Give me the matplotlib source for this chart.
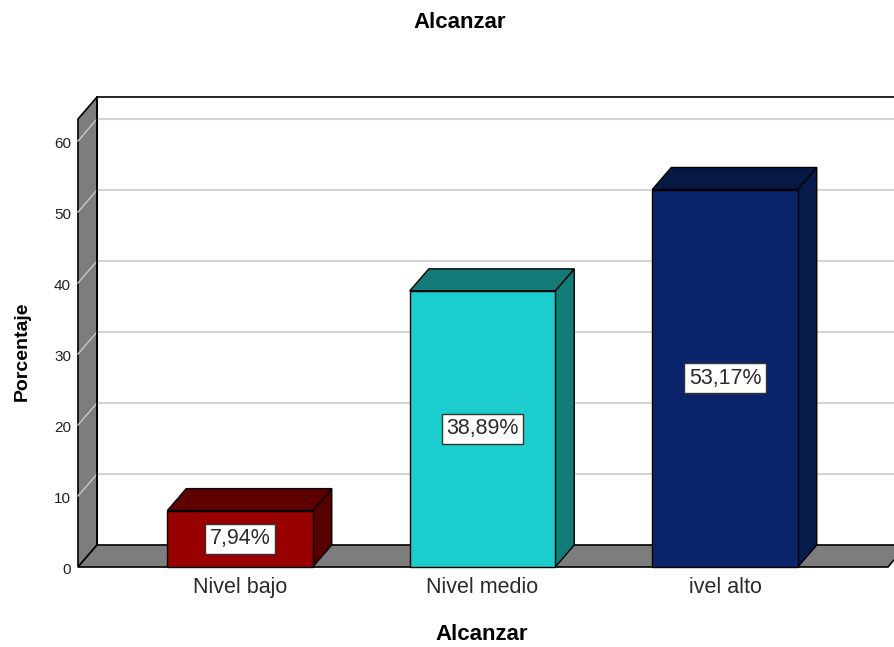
import matplotlib
matplotlib.use('Agg')
import matplotlib.pyplot as plt
from matplotlib.patches import Polygon, Rectangle

plt.rcParams['font.family'] = ['Liberation Sans', 'DejaVu Sans']

categorias = ['Nivel bajo', 'Nivel medio', 'ivel alto']
porcentajes = [7.94, 38.89, 53.17]
etiquetas = ['7,94%', '38,89%', '53,17%']
ticks_y = [0, 10, 20, 30, 40, 50, 60]

frentes = ['#990000', '#1ccdcd', '#0a246b']
techos = ['#5e0000', '#137a78', '#061944']
lados = ['#560000', '#127c79', '#071b4c']

fig = plt.figure(figsize=(8.95, 6.47), dpi=100)
ax = fig.add_axes([78 / 895, 80 / 647, 817 / 895, 448 / 647])
ax.set_xlim(-0.668, 2.701)
ax.set_ylim(0, 63.1)
ax.axis('off')

# fondo 3D: profundidad en unidades de datos
dx, dy = 0.0784, 3.1
x0, x1 = -0.668, 2.672
ytop = 63.1
gris = '#7d7d7d'

# lineas de cuadricula en la pared del fondo
for t in ticks_y[1:]:
    ax.plot([x0 + dx, 3.0], [t + dy, t + dy], color='#d4d4d4', lw=1.5, zorder=1, clip_on=False)

# pared izquierda
ax.add_patch(Polygon([(x0, 0), (x0, ytop), (x0 + dx, ytop + dy), (x0 + dx, dy)],
                     closed=True, facecolor=gris, edgecolor='black', lw=1.2, zorder=2, clip_on=False))
for t in ticks_y[1:]:
    ax.plot([x0, x0 + dx], [t, t + dy], color='#c8c8c8', lw=1, zorder=3, clip_on=False)

# bordes de la pared del fondo
ax.plot([x0 + dx, 3.0], [ytop + dy, ytop + dy], color='black', lw=1.2, zorder=3, clip_on=False)
ax.plot([x0 + dx, x0 + dx], [dy, ytop + dy], color='black', lw=1.2, zorder=3, clip_on=False)

# piso
ax.add_patch(Polygon([(x0, 0), (x1, 0), (x1 + dx, dy), (x0 + dx, dy)],
                     closed=True, facecolor=gris, edgecolor='black', lw=1.2, zorder=3, clip_on=False))

# barras 3D
ancho = 0.6
for i, v in enumerate(porcentajes):
    izq, der = i - ancho / 2, i + ancho / 2
    ax.add_patch(Polygon([(der, 0), (der + dx, dy), (der + dx, v + dy), (der, v)],
                         closed=True, facecolor=lados[i], edgecolor='black', lw=1, zorder=4, clip_on=False))
    ax.add_patch(Polygon([(izq, v), (der, v), (der + dx, v + dy), (izq + dx, v + dy)],
                         closed=True, facecolor=techos[i], edgecolor='black', lw=1, zorder=4, clip_on=False))
    ax.add_patch(Rectangle((izq, 0), ancho, v, facecolor=frentes[i], edgecolor='black',
                           lw=1, zorder=5, clip_on=False))
    ax.text(i, v / 2, etiquetas[i], ha='center', va='center', fontsize=15.5, color='#2a2a2a', zorder=6,
            bbox=dict(boxstyle='square,pad=0.2', facecolor='white', edgecolor='#333333', lw=1))
    ax.annotate(categorias[i], (i, 0), xytext=(0, -15), textcoords='offset points',
                ha='center', va='center', fontsize=15.5, color='#2a2a2a')

# etiquetas del eje y
for t in ticks_y:
    ax.annotate(str(t), (x0, t), xytext=(-5, -2.5), textcoords='offset points',
                ha='right', va='center', fontsize=11, color='#222222')

fig.text(460 / 895, 1 - 22 / 647, 'Alcanzar', ha='center', va='center', fontsize=16, fontweight='bold')
fig.text(482 / 895, 1 - 634 / 647, 'Alcanzar', ha='center', va='center', fontsize=16, fontweight='bold')
fig.text(22 / 895, 1 - 351 / 647, 'Porcentaje', ha='center', va='center', rotation=90,
         fontsize=14, fontweight='bold')

fig.savefig('out.png', dpi=100)
